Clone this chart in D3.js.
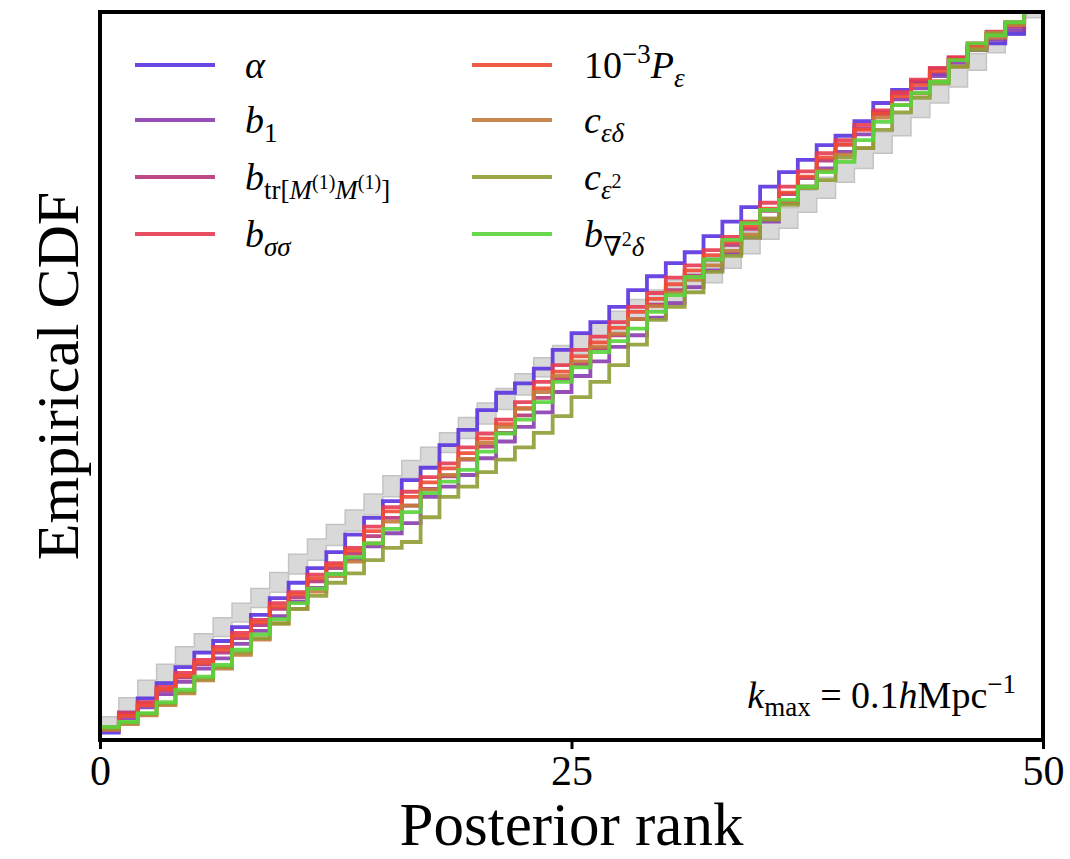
<!DOCTYPE html>
<html lang="en">
<head>
    <meta charset="UTF-8">
    <title>rank ecdf</title>
    <script src="https://d3js.org/d3.v7.min.js"></script>
    <style>
        body{ margin:0; background:#fff; }
        text{ font-family:"Liberation Serif","DejaVu Serif",serif; fill:#000; }
        .it{ font-style:italic; }
    </style>
</head>
<body>
<svg id="chart" width="1070" height="859"></svg>
<script>
    // posterior rank steps 0..49
    let ranks = d3.range(50)
    let xTicks = [0, 25, 50]

    let names = ["alpha", "b1", "btr", "bss", "Peps", "ced", "ce2", "blap"]
    let colors = ["#5a32e0", "#8c3cb0", "#b8347a", "#e63a50", "#f04a34", "#c47a3c", "#909c34", "#5ad43c"]

    // gray reference band (lower / upper) per rank
    let bandLo = [0.018,0.038,0.058,0.080,0.103,0.122,0.142,0.162,0.182,0.203,0.228,0.247,0.267,0.287,0.309,0.334,0.360,0.375,0.395,0.414,
        0.434,0.454,0.474,0.499,0.515,0.530,0.545,0.561,0.577,0.589,0.602,0.615,0.628,0.648,0.668,0.688,0.703,0.725,0.744,0.766,
        0.785,0.806,0.830,0.855,0.875,0.897,0.920,0.944,0.968,0.992]
    let bandHi = [0.032,0.058,0.082,0.104,0.128,0.146,0.168,0.188,0.208,0.230,0.255,0.276,0.296,0.316,0.338,0.363,0.384,0.402,0.422,0.443,
        0.463,0.483,0.503,0.525,0.542,0.557,0.573,0.589,0.605,0.618,0.632,0.645,0.658,0.678,0.698,0.718,0.731,0.755,0.773,0.793,
        0.813,0.835,0.860,0.884,0.899,0.923,0.943,0.960,0.980,1.000]

    let cdf_alpha = [0.010,0.035,0.057,0.078,0.100,0.120,0.136,0.155,0.172,0.195,0.216,0.236,0.258,0.282,0.305,0.328,0.357,0.374,0.405,0.426,
        0.453,0.477,0.490,0.510,0.536,0.559,0.574,0.595,0.618,0.637,0.655,0.670,0.692,0.712,0.732,0.760,0.780,0.797,0.817,0.830,
        0.850,0.875,0.893,0.904,0.915,0.935,0.948,0.957,0.970,1.000]
    let cdf_b1 = [0.014,0.030,0.045,0.063,0.080,0.098,0.112,0.132,0.150,0.170,0.190,0.209,0.228,0.248,0.266,0.284,0.298,0.334,0.348,0.364,
        0.387,0.410,0.430,0.450,0.478,0.500,0.520,0.540,0.556,0.580,0.600,0.622,0.645,0.668,0.690,0.712,0.738,0.760,0.785,0.808,
        0.832,0.860,0.880,0.895,0.912,0.930,0.948,0.962,0.975,1.000]
    let cdf_btr = [0.016,0.038,0.050,0.068,0.086,0.104,0.120,0.140,0.158,0.180,0.196,0.218,0.236,0.256,0.280,0.305,0.322,0.345,0.362,0.385,
        0.403,0.422,0.446,0.470,0.496,0.516,0.538,0.556,0.578,0.598,0.618,0.638,0.660,0.680,0.702,0.727,0.750,0.772,0.796,0.818,
        0.840,0.862,0.888,0.905,0.923,0.937,0.952,0.968,0.980,1.000]
    let cdf_bss = [0.015,0.036,0.052,0.073,0.092,0.110,0.128,0.147,0.165,0.188,0.203,0.227,0.243,0.264,0.293,0.320,0.341,0.361,0.380,0.402,
        0.421,0.440,0.464,0.492,0.515,0.536,0.554,0.574,0.595,0.614,0.635,0.652,0.673,0.691,0.712,0.738,0.760,0.781,0.806,0.824,
        0.845,0.865,0.890,0.907,0.923,0.938,0.957,0.973,0.986,1.000]
    let cdf_Peps = [0.018,0.033,0.048,0.070,0.088,0.106,0.124,0.143,0.162,0.183,0.200,0.222,0.240,0.260,0.287,0.314,0.334,0.354,0.373,0.394,
        0.414,0.434,0.456,0.483,0.506,0.527,0.546,0.566,0.588,0.606,0.626,0.645,0.666,0.684,0.705,0.730,0.752,0.774,0.800,0.818,
        0.838,0.860,0.884,0.900,0.918,0.935,0.954,0.970,0.984,1.000]
    let cdf_ced = [0.014,0.022,0.034,0.048,0.064,0.082,0.098,0.117,0.138,0.160,0.180,0.204,0.225,0.245,0.270,0.300,0.322,0.344,0.364,0.386,
        0.408,0.430,0.455,0.478,0.500,0.520,0.540,0.558,0.578,0.596,0.615,0.632,0.652,0.672,0.694,0.716,0.738,0.760,0.782,0.804,
        0.813,0.855,0.872,0.888,0.905,0.925,0.950,0.965,0.982,1.000]
    let cdf_ce2 = [0.016,0.024,0.036,0.050,0.066,0.084,0.100,0.120,0.140,0.160,0.180,0.198,0.216,0.229,0.247,0.264,0.272,0.306,0.334,0.348,
        0.368,0.385,0.402,0.422,0.445,0.471,0.492,0.515,0.543,0.577,0.595,0.615,0.643,0.665,0.690,0.715,0.735,0.758,0.769,0.800,
        0.813,0.838,0.862,0.882,0.902,0.925,0.948,0.971,0.985,1.000]
    let cdf_blap = [0.018,0.025,0.037,0.052,0.069,0.087,0.103,0.124,0.145,0.166,0.188,0.208,0.228,0.251,0.270,0.290,0.313,0.339,0.355,0.371,
        0.396,0.421,0.440,0.464,0.492,0.512,0.533,0.548,0.565,0.588,0.611,0.636,0.660,0.687,0.710,0.728,0.742,0.760,0.780,0.794,
        0.824,0.849,0.872,0.889,0.904,0.934,0.957,0.968,0.986,1.000]

    let series = [cdf_alpha, cdf_b1, cdf_btr, cdf_bss, cdf_Peps, cdf_ced, cdf_ce2, cdf_blap]

    let pLeft = 100, pRight = 1043, pTop = 12, pBottom = 740
    let svg = d3.select("#chart")

    let x = d3.scaleLinear().domain([0, 50]).range([pLeft, pRight])
    let y = d3.scaleLinear().domain([0, 1]).range([pBottom, pTop])

    svg.append("clipPath").attr("id", "clip")
        .append("rect").attr("x", pLeft).attr("y", pTop)
        .attr("width", pRight - pLeft).attr("height", pBottom - pTop)

    let plot = svg.append("g").attr("clip-path", "url(#clip)")

    // gray band
    let bandPts = ranks.map((r, i) => [r, bandLo[i], bandHi[i]])
    bandPts.push([50, bandLo[49], bandHi[49]])
    let area = d3.area()
        .x(d => x(d[0]))
        .y0(d => y(d[1]))
        .y1(d => y(d[2]))
        .curve(d3.curveStepAfter)
    plot.append("path")
        .attr("d", area(bandPts))
        .attr("fill", "#d9d9d9")
        .attr("stroke", "#c4c4c4")
        .attr("stroke-width", 1.5)

    // ecdf steps
    let line = d3.line()
        .x(d => x(d[0]))
        .y(d => y(d[1]))
        .curve(d3.curveStepAfter)
    series.forEach(function (vals, k) {
        let pts = ranks.map((r, i) => [r, vals[i]])
        pts.push([50, vals[vals.length - 1]])
        plot.append("path")
            .attr("d", line(pts))
            .attr("fill", "none")
            .attr("stroke", colors[k])
            .attr("stroke-width", 3.8)
            .attr("stroke-opacity", 0.9)
    })

    // frame
    svg.append("rect")
        .attr("x", pLeft).attr("y", pTop)
        .attr("width", pRight - pLeft).attr("height", pBottom - pTop)
        .attr("fill", "none").attr("stroke", "#000").attr("stroke-width", 4)

    // x axis
    let xAxis = svg.append("g")
        .attr("transform", "translate(0," + pBottom + ")")
        .call(d3.axisBottom(x).tickValues(xTicks).tickFormat(d3.format("d")).tickSizeOuter(0).tickSize(9).tickPadding(6))
    xAxis.select(".domain").remove()
    xAxis.selectAll(".tick line").attr("stroke", "#000").attr("stroke-width", 3)
    xAxis.selectAll(".tick text")
        .attr("font-family", "Liberation Serif")
        .attr("font-size", 42)
        .attr("fill", "#000")

    svg.append("text")
        .attr("x", (pLeft + pRight) / 2).attr("y", 845)
        .attr("text-anchor", "middle")
        .attr("font-size", 61)
        .text("Posterior rank")

    svg.append("text")
        .attr("transform", "translate(78," + (pTop + pBottom) / 2 + ") rotate(-90)")
        .attr("text-anchor", "middle")
        .attr("font-size", 60)
        .text("Empirical CDF")

    // legend labels as pieces [text, italic, dy, size]
    let S = 38, s = 27, ss = 20
    let labels = [
        [["α", 1, 0, S]],
        [["b", 1, 0, S], ["1", 0, 9, s]],
        [["b", 1, 0, S], ["tr[", 0, 9, s], ["M", 1, 0, s], ["(1)", 0, -10, ss], ["M", 1, 10, s], ["(1)", 0, -10, ss], ["]", 0, 10, s]],
        [["b", 1, 0, S], ["σσ", 1, 9, s]],
        [["10", 0, 0, S], ["−3", 0, -15, s], ["P", 1, 15, S], ["ε", 1, 9, s]],
        [["c", 1, 0, S], ["εδ", 1, 9, s]],
        [["c", 1, 0, S], ["ε", 1, 9, s], ["2", 0, -11, ss]],
        [["b", 1, 0, S], ["∇", 0, 9, s], ["2", 0, -10, ss], ["δ", 1, 10, s]]
    ]
    let legX = [135, 472], textX = [245, 584], rowY = [65, 120, 177, 234]
    labels.forEach(function (parts, k) {
        let col = Math.floor(k / 4), row = k % 4
        svg.append("line")
            .attr("x1", legX[col]).attr("x2", legX[col] + 80)
            .attr("y1", rowY[row]).attr("y2", rowY[row])
            .attr("stroke", colors[k]).attr("stroke-width", 3.8).attr("stroke-opacity", 0.9)
        let t = svg.append("text")
            .attr("x", textX[col]).attr("y", rowY[row] + 13)
        parts.forEach(function (p) {
            t.append("tspan")
                .attr("class", p[1] ? "it" : null)
                .attr("dy", p[2])
                .attr("font-size", p[3])
                .text(p[0])
        })
    })

    // annotation
    let ann = svg.append("text")
        .attr("x", 1016).attr("y", 708)
        .attr("text-anchor", "end")
    let annParts = [["k", 1, 0, 38], ["max", 0, 8, 27], [" = 0.1", 0, -8, 38], ["h", 1, 0, 38], ["Mpc", 0, 0, 38], ["−1", 0, -15, 27]]
    annParts.forEach(function (p) {
        ann.append("tspan")
            .attr("class", p[1] ? "it" : null)
            .attr("dy", p[2])
            .attr("font-size", p[3])
            .text(p[0])
    })
</script>
</body>
</html>
